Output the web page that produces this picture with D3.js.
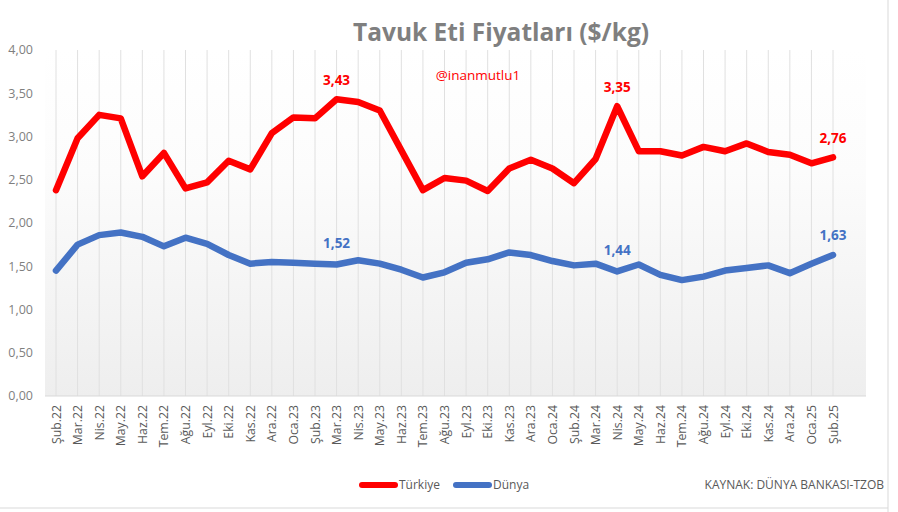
<!DOCTYPE html>
<html>
<head>
<meta charset="utf-8">
<script src="https://cdn.jsdelivr.net/npm/d3@7"></script>
<style>
  body { margin: 0; background: #fff; }
  svg { display: block; font-family: "Open Sans", "DejaVu Sans", sans-serif; }
</style>
</head>
<body>
<svg id="mainsvg" width="898" height="512"></svg>
<script>
const months = ['Şub','Mar','Nis','May','Haz','Tem','Ağu','Eyl','Eki','Kas','Ara','Oca']
const categories = []
for (let i = 0; i < 37; i++) {
  const yr = 22 + Math.floor((i + 1) / 12)
  categories.push(`${months[i % 12]}.${yr}`)
}
const turkiye = [2.38,2.98,3.25,3.21,2.54,2.81,2.40,2.47,2.72,2.62,3.04,3.22,3.21,3.43,3.40,3.30,2.84,2.38,2.52,
  2.49,2.37,2.63,2.73,2.63,2.46,2.74,3.35,2.83,2.83,2.78,2.88,2.83,2.92,2.82,2.79,2.69,2.76]
const dunya = [1.45,1.75,1.86,1.89,1.84,1.73,1.83,1.76,1.63,1.53,1.55,1.54,1.53,1.52,1.57,1.53,1.46,1.37,1.43,
  1.54,1.58,1.66,1.63,1.56,1.51,1.53,1.44,1.52,1.40,1.34,1.38,1.45,1.48,1.51,1.42,1.53,1.63]
const yTicks = [0,0.5,1,1.5,2,2.5,3,3.5,4]
// indexes that get a value label
const labelIdx = [13,26,36]

const svg = d3.select('#mainsvg')
const plot = {left: 45, right: 866, top: 50, bottom: 396}

const x = d3.scalePoint().domain(categories).range([56, 833])
const y = d3.scaleLinear().domain([0, 4]).range([plot.bottom, plot.top])
const fmt = v => d3.format('.2f')(v).replace('.', ',')

// outer frame bits
svg.append('line').attr('x1',888).attr('x2',888).attr('y1',0).attr('y2',512).attr('stroke','#d9d9d9')
svg.append('line').attr('x1',0).attr('x2',888).attr('y1',508).attr('y2',508).attr('stroke','#d9d9d9')

const defs = svg.append('defs')
const grad = defs.append('linearGradient').attr('id','bg').attr('x1',0).attr('x2',0).attr('y1',0).attr('y2',1)
grad.append('stop').attr('offset','0%').attr('stop-color','#ffffff')
grad.append('stop').attr('offset','35%').attr('stop-color','#fcfcfc')
grad.append('stop').attr('offset','100%').attr('stop-color','#eeeeee')

svg.append('rect')
  .attr('x',plot.left).attr('y',plot.top)
  .attr('width',plot.right - plot.left).attr('height',plot.bottom - plot.top)
  .attr('fill','url(#bg)')

// vertical gridlines
svg.append('g').selectAll('line').data(categories).join('line')
  .attr('x1',d => x(d)).attr('x2',d => x(d))
  .attr('y1',plot.top).attr('y2',plot.bottom)
  .attr('stroke','#e0e0e0').attr('stroke-width',1)

// x axis line
svg.append('line').attr('x1',plot.left).attr('x2',plot.right)
  .attr('y1',plot.bottom).attr('y2',plot.bottom).attr('stroke','#d9d9d9')

// y labels
svg.append('g').selectAll('text').data(yTicks).join('text')
  .attr('x',33).attr('y',d => y(d)).attr('dy','0.35em')
  .attr('text-anchor','end').attr('fill','#7f7f7f').attr('font-size',12.5)
  .text(fmt)

// x labels
svg.append('g').selectAll('text').data(categories).join('text')
  .attr('transform',d => `translate(${x(d) + 4.5},405) rotate(-90)`)
  .attr('text-anchor','end').attr('fill','#595959').attr('font-size',12.3)
  .text(d => d)

const line = d3.line().x((d,i) => x(categories[i])).y(d => y(d)).curve(d3.curveLinear)

svg.append('path').datum(dunya).attr('d',line)
  .attr('fill','none').attr('stroke','#4472c4').attr('stroke-width',6.5)
  .attr('stroke-linejoin','round').attr('stroke-linecap','round')
svg.append('path').datum(turkiye).attr('d',line)
  .attr('fill','none').attr('stroke','#ff0000').attr('stroke-width',6.5)
  .attr('stroke-linejoin','round').attr('stroke-linecap','round')

// value labels
const redLabelY = [80, 87, 138]
const blueLabelY = [243, 250, 235]
labelIdx.forEach((k, j) => {
  svg.append('text').attr('x',x(categories[k])).attr('y',redLabelY[j] + 5)
    .attr('text-anchor','middle').attr('fill','#ff0000').attr('font-weight','bold').attr('font-size',13.5)
    .text(fmt(turkiye[k]))
  svg.append('text').attr('x',x(categories[k])).attr('y',blueLabelY[j] + 5)
    .attr('text-anchor','middle').attr('fill','#4472c4').attr('font-weight','bold').attr('font-size',13.5)
    .text(fmt(dunya[k]))
})

// title
svg.append('text').attr('x',501).attr('y',41).attr('text-anchor','middle')
  .attr('fill','#7f7f7f').attr('font-weight','bold').attr('font-size',24.5)
  .text('Tavuk Eti Fiyatları ($/kg)')
svg.append('text').attr('x',478).attr('y',80).attr('text-anchor','middle')
  .attr('fill','#ff0000').attr('font-size',13.5)
  .text('@inanmutlu1')

// legend
const legend = [{name:'Türkiye', color:'#ff0000', x:362}, {name:'Dünya', color:'#4472c4', x:456}]
legend.forEach(l => {
  svg.append('line').attr('x1',l.x).attr('x2',l.x + 33).attr('y1',485).attr('y2',485)
    .attr('stroke',l.color).attr('stroke-width',6).attr('stroke-linecap','round')
  svg.append('text').attr('x',l.x + 37).attr('y',489).attr('fill','#595959').attr('font-size',12)
    .text(l.name)
})
svg.append('text').attr('x',884).attr('y',489).attr('text-anchor','end')
  .attr('fill','#595959').attr('font-size',12)
  .text('KAYNAK: DÜNYA BANKASI-TZOB')
</script>
</body>
</html>
